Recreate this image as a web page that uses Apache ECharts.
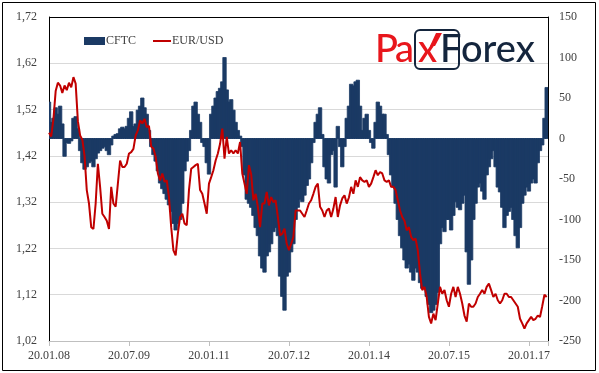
<!DOCTYPE html>
<html><head><meta charset="utf-8">
<script src="https://cdn.jsdelivr.net/npm/echarts@6/dist/echarts.min.js"></script>
<style>html,body{margin:0;padding:0;background:#fff}#c{width:599px;height:373px}</style>
</head><body><div id="c"></div>
<script>
// x axis: months since 20.01.2008, one value every half month
const xLabels = ['20.01.08', '20.07.09', '20.01.11', '20.07.12', '20.01.14', '20.07.15', '20.01.17'];
const monthStep = 0.5;
const labelEveryMonths = 18;

// EUR/USD (left axis)
const eurusd = [
  1.470, 1.462, 1.500, 1.560, 1.578, 1.572, 1.556, 1.572, 1.562, 1.578,
  1.568, 1.590, 1.576, 1.495, 1.464, 1.455, 1.420, 1.346, 1.317, 1.266,
  1.262, 1.317, 1.403, 1.353, 1.295, 1.288, 1.280, 1.262, 1.353, 1.317,
  1.310, 1.360, 1.410, 1.396, 1.396, 1.403, 1.425, 1.428, 1.435, 1.464,
  1.475, 1.497, 1.490, 1.500, 1.482, 1.485, 1.440, 1.436, 1.418, 1.382,
  1.367, 1.382, 1.364, 1.367, 1.331, 1.266, 1.216, 1.205, 1.252, 1.288,
  1.295, 1.274, 1.270, 1.346, 1.392, 1.396, 1.400, 1.403, 1.346, 1.338,
  1.317, 1.295, 1.360, 1.374, 1.389, 1.410, 1.425, 1.446, 1.479, 1.414,
  1.461, 1.425, 1.432, 1.425, 1.432, 1.425, 1.450, 1.382, 1.360, 1.338,
  1.400, 1.380, 1.324, 1.338, 1.310, 1.266, 1.317, 1.317, 1.342, 1.313,
  1.331, 1.320, 1.324, 1.288, 1.248, 1.252, 1.263, 1.230, 1.216, 1.230,
  1.245, 1.302, 1.302, 1.302, 1.295, 1.288, 1.302, 1.317, 1.324, 1.338,
  1.353, 1.360, 1.310, 1.302, 1.288, 1.302, 1.306, 1.288, 1.306, 1.331,
  1.288, 1.313, 1.328, 1.335, 1.317, 1.330, 1.353, 1.338, 1.367, 1.353,
  1.374, 1.367, 1.364, 1.367, 1.353, 1.360, 1.374, 1.389, 1.378, 1.385,
  1.382, 1.367, 1.364, 1.367, 1.353, 1.353, 1.346, 1.324, 1.302, 1.288,
  1.280, 1.259, 1.266, 1.245, 1.238, 1.241, 1.216, 1.166, 1.130, 1.137,
  1.115, 1.072, 1.058, 1.079, 1.065, 1.101, 1.137, 1.122, 1.130, 1.108,
  1.094, 1.122, 1.137, 1.115, 1.137, 1.122, 1.101, 1.075, 1.062, 1.101,
  1.094, 1.094, 1.101, 1.115, 1.122, 1.130, 1.122, 1.137, 1.144, 1.130,
  1.115, 1.122, 1.108, 1.101, 1.108, 1.122, 1.122, 1.115, 1.115, 1.108,
  1.101, 1.094, 1.068, 1.058, 1.047, 1.058, 1.065, 1.072, 1.065, 1.068,
  1.075, 1.072, 1.095, 1.120, 1.115
];

// CFTC net positions (right axis)
const cftc = [
  45, 20, 25, 38, 30, 40, 18, -22, -5, -6,
  -3, 25, 27, 12, -15, -30, -38, -35, -30, -28,
  -35, -25, -18, -15, -12, -10, -15, -20, -8, 3,
  5, 6, 12, 14, 12, 15, 25, 33, 15, 18,
  35, 40, 50, 38, 30, 10, -10, -20, -28, -40,
  -55, -62, -68, -75, -82, -90, -105, -113, -105, -100,
  -80, -40, -28, -15, 10, 40, 45, 30, 20, -5,
  -10, -30, -44, 30, 40, 50, 58, 62, 70, 100,
  60, 45, 48, 35, 20, 10, 3, -10, -45, -75,
  -80, -85, -95, -110, -120, -145, -160, -165, -145, -140,
  -130, -115, -110, -120, -170, -195, -212, -170, -165, -140,
  -130, -100, -85, -75, -78, -70, -58, -50, -30, -5,
  20, 30, 38, 5, -35, -50, -55, -20, -15, -60,
  15, -10, -35, -10, 25, 40, 67, 65, 70, 72,
  40, 10, 25, 30, 10, -5, -12, 20, 45, 40,
  30, 30, 5, -20, -45, -60, -80, -100, -120, -135,
  -150, -160, -155, -165, -175, -160, -165, -178, -185, -185,
  -195, -205, -215, -212, -205, -190, -130, -110, -115, -100,
  -100, -113, -95, -78, -85, -88, -80, -70, -140, -180,
  -150, -100, -80, -60, -55, -65, -75, -45, -35, -25,
  -15, -35, -60, -66, -85, -110, -95, -90, -85, -100,
  -120, -135, -110, -80, -70, -60, -65, -55, -50, -55,
  -30, -15, -8, 25, 63
];

const chart = echarts.init(document.getElementById('c'), null, { renderer: 'canvas' });
const font = 'Liberation Serif';
const txt = '#404040';
const red = '#c00000';
const navy = '#1b3a64';
const logoRed = '#e8161c';
const logoNavy = '#14253d';
const logoFont = '500 38px Lato';
const legendText = { fontFamily: font, fontSize: 12, color: txt, padding: [0, 0, 0, -4] };

// contiguous columns drawn through the axes' own scales
function renderColumn(params, api) {
  const x = api.value(0);
  const v = api.value(1);
  const base = api.coord([x, 0]);
  const top = api.coord([x, v]);
  const w = api.size([monthStep, 0])[0];
  return {
    type: 'rect',
    shape: { x: base[0] - w / 2 - 0.6, y: Math.min(base[1], top[1]), width: w + 1.2, height: Math.abs(top[1] - base[1]) },
    style: { fill: navy, stroke: navy, lineWidth: 0.8 }
  };
}

const option = {
  animation: false,
  backgroundColor: '#ffffff',
  grid: { left: 49, right: 51, top: 17, bottom: 32 },
  legend: [
    { left: 79, top: 30, itemWidth: 21, itemHeight: 8, textStyle: legendText, data: [{ name: 'CFTC', icon: 'rect' }] },
    { left: 148, top: 30, itemWidth: 18, itemHeight: 2, textStyle: legendText, data: [{ name: 'EUR/USD', icon: 'rect' }] }
  ],
  xAxis: {
    type: 'value', min: 0, max: 112.3, interval: labelEveryMonths,
    axisLine: { onZero: false, lineStyle: { color: '#bfbfbf', width: 1 } },
    axisTick: { show: true, length: 5, lineStyle: { color: '#bfbfbf' } },
    splitLine: { show: false },
    axisLabel: {
      margin: 9, color: txt, fontFamily: font, fontSize: 12, showMaxLabel: true,
      formatter: function (v) {
        const k = v / labelEveryMonths;
        return Math.abs(k - Math.round(k)) < 1e-6 ? (xLabels[Math.round(k)] || '') : '';
      }
    }
  },
  yAxis: [
    {
      type: 'value', min: 1.02, max: 1.72, interval: 0.1, position: 'left',
      axisLine: { show: true, onZero: false, lineStyle: { color: '#000' } },
      axisTick: { show: false },
      splitLine: { lineStyle: { color: ['#d9d9d9', '#d9d9d9', '#d9d9d9', '#d9d9d9', '#d9d9d9', '#d9d9d9', '#d9d9d9', '#000'] } },
      axisLabel: { margin: 12, color: txt, fontFamily: font, fontSize: 12, formatter: v => v.toFixed(2).replace('.', ',') }
    },
    {
      type: 'value', min: -250, max: 150, interval: 50, position: 'right',
      axisLine: { show: true, onZero: false, lineStyle: { color: '#000' } },
      axisTick: { show: false },
      splitLine: { show: false },
      axisLabel: { margin: 11, color: txt, fontFamily: font, fontSize: 12 }
    }
  ],
  series: [
    {
      name: 'CFTC', type: 'custom', yAxisIndex: 1, clip: true,
      itemStyle: { color: navy },
      renderItem: renderColumn,
      encode: { x: 0, y: 1 },
      data: cftc.map((v, i) => [i * monthStep, v])
    },
    {
      name: 'EUR/USD', type: 'line', yAxisIndex: 0, showSymbol: false, symbol: 'none',
      lineStyle: { color: red, width: 2 }, itemStyle: { color: red },
      data: eurusd.map((v, i) => [i * monthStep, v])
    }
  ],
  graphic: [
    { type: 'rect', z: 100, silent: true, shape: { x: 2.5, y: 2.5, width: 593, height: 368 }, style: { fill: null, stroke: '#000', lineWidth: 1 } },
    { type: 'text', z: 100, x: 375, y: 50, style: { text: 'P', fill: logoRed, font: logoFont, verticalAlign: 'middle' } },
    { type: 'text', z: 100, x: 395, y: 50, style: { text: 'a', fill: logoRed, font: logoFont, verticalAlign: 'middle' } },
    { type: 'rect', z: 100, shape: { x: 415, y: 30, width: 44, height: 39, r: 5 }, style: { fill: null, stroke: logoNavy, lineWidth: 2 } },
    { type: 'text', z: 100, x: 418, y: 50, style: { text: 'x', fill: logoRed, font: logoFont, verticalAlign: 'middle' } },
    { type: 'polygon', z: 100, shape: { points: [[436, 33], [442, 33], [435, 46], [430, 46]] }, style: { fill: logoRed } },
    { type: 'text', z: 100, x: 440, y: 50, style: { text: 'F', fill: logoNavy, font: logoFont, verticalAlign: 'middle' } },
    { type: 'text', z: 100, x: 461, y: 50, style: { text: 'orex', fill: logoNavy, font: logoFont, verticalAlign: 'middle' } }
  ]
};
chart.setOption(option);
</script>
</body></html>
